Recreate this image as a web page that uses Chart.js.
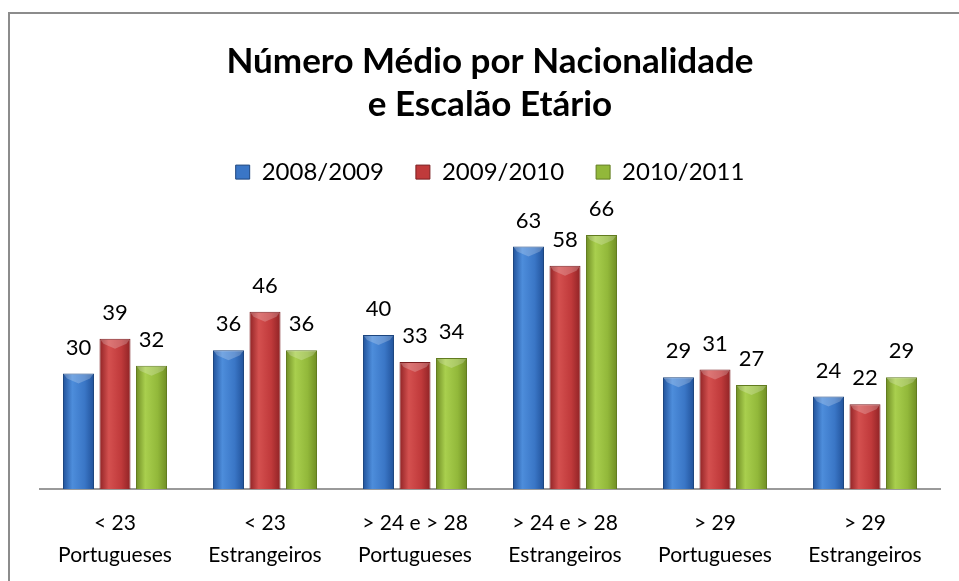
<!DOCTYPE html>
<html>
<head>
<meta charset="utf-8">
<script src="https://cdn.jsdelivr.net/npm/chart.js@4.4.0/dist/chart.umd.min.js"></script>
<style>
  html, body { margin: 0; padding: 0; background: #fff; }
  #wrap { position: relative; width: 959px; height: 581px; overflow: hidden; }
  #frame { position: absolute; left: 8px; top: 12px; width: 1000px; height: 1000px; border: 2px solid #8c8c8c; }
  #chart { position: absolute; left: 0; top: 0; }
</style>
</head>
<body>
<div id="wrap">
  <div id="frame"></div>
  <canvas id="chart" width="959" height="581"></canvas>
</div>
<script>
// categorias (escalão etário + nacionalidade)
const categories = [
  ['< 23', 'Portugueses'],
  ['< 23', 'Estrangeiros'],
  ['> 24 e > 28', 'Portugueses'],
  ['> 24 e > 28', 'Estrangeiros'],
  ['> 29', 'Portugueses'],
  ['> 29', 'Estrangeiros'],
];
const seriesNames = ['2008/2009', '2009/2010', '2010/2011'];
const values2008 = [30, 36, 40, 63, 29, 24];
const values2009 = [39, 46, 33, 58, 31, 22];
const values2010 = [32, 36, 34, 66, 27, 29];

const CAT_PCT = 0.73;
const BAR_PCT = 0.85;
const FONT = 'Lato, "Open Sans", sans-serif';

// tons para o gradiente horizontal de cada série
const palettes = [
  { edge: '#21529a', light: '#4d8ddb', mid: '#3a76c6', border: '#1d467f', solid: '#3a76c6' },
  { edge: '#8f2325', light: '#d4504f', mid: '#c03a3b', border: '#7a1e20', solid: '#c03a3b' },
  { edge: '#6f8d24', light: '#a9cf4e', mid: '#92b83a', border: '#627c20', solid: '#92b83a' },
];

function barGradient(ctx) {
  const chart = ctx.chart;
  const pal = palettes[ctx.datasetIndex];
  const xs = chart.scales && chart.scales.x;
  if (!xs || ctx.dataIndex === undefined || !isFinite(xs.width)) return pal.solid;
  const catW = xs.width / categories.length;
  const slot = catW * CAT_PCT / seriesNames.length;
  const w = slot * BAR_PCT;
  const cx = xs.getPixelForValue(ctx.dataIndex) + (ctx.datasetIndex - 1) * slot;
  const left = cx - w / 2;
  if (!isFinite(left) || !isFinite(w) || w <= 0) return pal.solid;
  const g = chart.ctx.createLinearGradient(left, 0, left + w, 0);
  g.addColorStop(0, pal.edge);
  g.addColorStop(0.3, pal.light);
  g.addColorStop(0.7, pal.mid);
  g.addColorStop(1, pal.edge);
  return g;
}

// chanfro claro no topo das barras + rótulos de valor
const valueLabels = {
  id: 'valueLabels',
  afterDatasetsDraw(chart) {
    const c = chart.ctx;
    c.save();
    chart.data.datasets.forEach((ds, di) => {
      chart.getDatasetMeta(di).data.forEach((bar) => {
        const l = bar.x - bar.width / 2 + 1;
        const r = bar.x + bar.width / 2 - 1;
        const t = bar.y + 1;
        c.beginPath();
        c.moveTo(l, t);
        c.lineTo(r, t);
        c.lineTo(r - 3, t + 4);
        c.lineTo(bar.x, t + 9);
        c.lineTo(l + 3, t + 4);
        c.closePath();
        c.fillStyle = 'rgba(255,255,255,0.22)';
        c.fill();
      });
    });
    c.font = '22px ' + FONT;
    c.fillStyle = '#000';
    c.textAlign = 'center';
    c.textBaseline = 'middle';
    chart.data.datasets.forEach((ds, di) => {
      chart.getDatasetMeta(di).data.forEach((bar, i) => {
        c.fillText(String(ds.data[i]), bar.x, bar.y - 26);
      });
    });
    c.restore();
  }
};

const allSeries = [values2008, values2009, values2010];

new Chart(document.getElementById('chart'), {
  type: 'bar',
  data: {
    labels: categories,
    datasets: allSeries.map((vals, i) => ({
      label: seriesNames[i],
      data: vals,
      backgroundColor: barGradient,
      borderColor: palettes[i].border,
      borderWidth: 1,
      categoryPercentage: CAT_PCT,
      barPercentage: BAR_PCT,
    })),
  },
  options: {
    responsive: false,
    animation: false,
    devicePixelRatio: 1,
    layout: { padding: { left: 40, right: 19, top: 0, bottom: -9 } },
    plugins: {
      title: {
        display: true,
        text: ['Número Médio por Nacionalidade', 'e Escalão Etário'],
        color: '#000',
        font: { family: FONT, size: 35, weight: 'bold', lineHeight: 1.23 },
        padding: { top: 40, bottom: 2 },
      },
      legend: {
        display: true,
        labels: {
          color: '#000',
          font: { family: FONT, size: 24 },
          boxWidth: 14,
          boxHeight: 14,
          padding: 32,
          generateLabels() {
            return seriesNames.map((name, i) => ({
              text: name,
              fillStyle: palettes[i].solid,
              strokeStyle: palettes[i].border,
              lineWidth: 1,
              datasetIndex: i,
            }));
          },
        },
      },
      tooltip: { enabled: false },
    },
    scales: {
      x: {
        grid: { display: false, drawTicks: false },
        border: { display: true, color: '#9a9a9a', width: 2 },
        ticks: {
          color: '#000',
          font: { family: FONT, size: 21, lineHeight: 1.55 },
          padding: 18,
          maxRotation: 0,
          autoSkip: false,
        },
      },
      y: {
        display: false,
        min: 0,
        max: 76.6,
      },
    },
  },
  plugins: [valueLabels],
});
</script>
</body>
</html>
